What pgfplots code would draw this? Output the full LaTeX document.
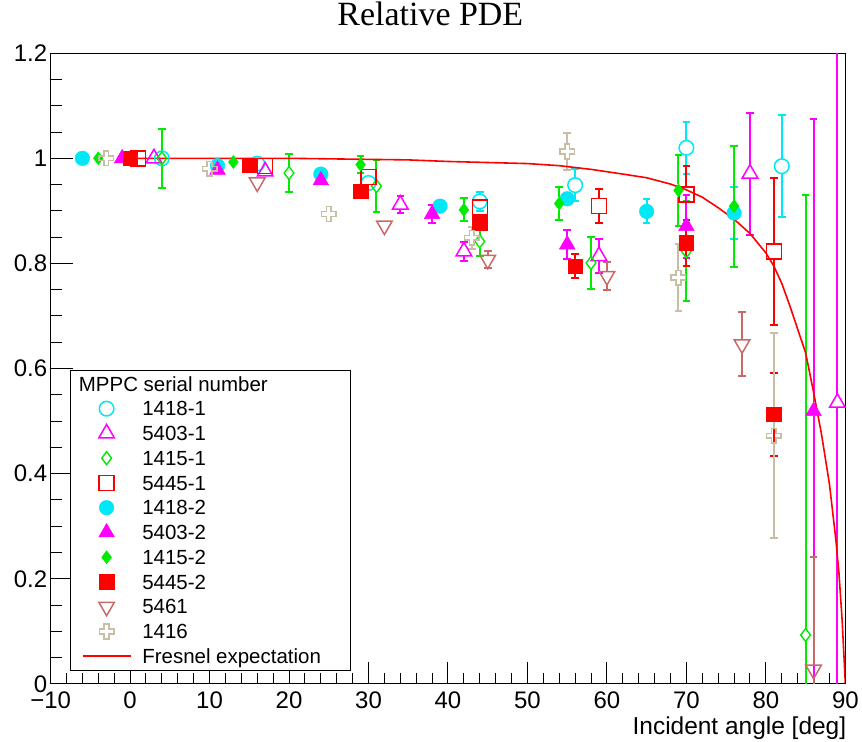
\documentclass[border=0pt]{standalone}
\usepackage{fontspec}
\setmainfont{Liberation Sans}
\newfontfamily\titlefont{Liberation Serif}
\usepackage{pgfplots}
\usepackage{pgfplotstable}
\pgfplotsset{compat=1.18}
\usetikzlibrary{plotmarks}

\definecolor{cCyan}{RGB}{0,232,245}
\definecolor{cMag}{RGB}{255,0,255}
\definecolor{cGreen}{RGB}{0,235,0}
\definecolor{cRed}{RGB}{255,0,0}
\definecolor{cRose}{RGB}{200,105,105}
\definecolor{cBeige}{RGB}{200,190,165}

\pgfdeclareplotmark{ocross}{%
  \pgfpathmoveto{\pgfqpoint{-0.33\pgfplotmarksize}{\pgfplotmarksize}}%
  \pgfpathlineto{\pgfqpoint{0.33\pgfplotmarksize}{\pgfplotmarksize}}%
  \pgfpathlineto{\pgfqpoint{0.33\pgfplotmarksize}{0.33\pgfplotmarksize}}%
  \pgfpathlineto{\pgfqpoint{\pgfplotmarksize}{0.33\pgfplotmarksize}}%
  \pgfpathlineto{\pgfqpoint{\pgfplotmarksize}{-0.33\pgfplotmarksize}}%
  \pgfpathlineto{\pgfqpoint{0.33\pgfplotmarksize}{-0.33\pgfplotmarksize}}%
  \pgfpathlineto{\pgfqpoint{0.33\pgfplotmarksize}{-\pgfplotmarksize}}%
  \pgfpathlineto{\pgfqpoint{-0.33\pgfplotmarksize}{-\pgfplotmarksize}}%
  \pgfpathlineto{\pgfqpoint{-0.33\pgfplotmarksize}{-0.33\pgfplotmarksize}}%
  \pgfpathlineto{\pgfqpoint{-\pgfplotmarksize}{-0.33\pgfplotmarksize}}%
  \pgfpathlineto{\pgfqpoint{-\pgfplotmarksize}{0.33\pgfplotmarksize}}%
  \pgfpathlineto{\pgfqpoint{-0.33\pgfplotmarksize}{0.33\pgfplotmarksize}}%
  \pgfpathclose
  \pgfusepathqstroke
}

% ---------- data: x, relative PDE, error ----------
\pgfplotstableread{
x y
4 1.000
16 0.990
30 0.953
44 0.918
56 0.949
70 1.020
82 0.985
}\tA
\pgfplotstableread{
x y e
44 0.918 0.018
56 0.949 0.030
70 1.020 0.050
82 0.985 0.097
}\tAe
\pgfplotstableread{
x y
3 1.000
17 0.975
34 0.912
42 0.823
59 0.814
78 0.971
89 0.535
}\tB
\pgfplotstableread{
x y e
34 0.912 0.016
42 0.823 0.018
59 0.814 0.032
78 0.971 0.116
89 0.535 0.800
}\tBe
\pgfplotstableread{
x y
4 1.000
20 0.972
31 0.947
44 0.842
58 0.801
70 0.823
85 0.093
}\tC
\pgfplotstableread{
x y e
4 1.000 0.056
20 0.972 0.037
31 0.947 0.049
44 0.842 0.027
58 0.801 0.049
70 0.823 0.095
85 0.093 0.838
}\tCe
\pgfplotstableread{
x y
1 1.000
17 0.985
30 0.964
44 0.906
59 0.909
70 0.931
81 0.823
}\tD
\pgfplotstableread{
x y e
59 0.909 0.033
70 0.931 0.054
81 0.823 0.140
}\tDe
\pgfplotstableread{
x y
-6 1.000
11 0.986
24 0.970
39 0.909
55 0.923
65 0.899
76 0.896
}\tE
\pgfplotstableread{
x y e
65 0.899 0.023
76 0.896 0.049
}\tEe
\pgfplotstableread{
x y
-1 1.000
11 0.978
24 0.958
38 0.894
55 0.836
70 0.871
86 0.519
}\tF
\pgfplotstableread{
x y e
38 0.894 0.018
55 0.836 0.028
70 0.871 0.060
86 0.519 0.555
}\tFe
\pgfplotstableread{
x y
-4 1.000
13 0.993
29 0.988
42 0.902
54 0.914
69 0.939
76 0.909
}\tG
\pgfplotstableread{
x y e
29 0.988 0.016
42 0.902 0.022
54 0.914 0.031
69 0.939 0.067
76 0.909 0.115
}\tGe
\pgfplotstableread{
x y
0 1.000
15 0.987
29 0.937
44 0.877
56 0.795
70 0.839
81 0.513
}\tH
\pgfplotstableread{
x y e
56 0.795 0.022
70 0.839 0.044
81 0.513 0.079
}\tHe
\pgfplotstableread{
x y
16 0.954
32 0.872
45 0.807
60 0.776
77 0.646
86 0.027
}\tI
\pgfplotstableread{
x y e
45 0.807 0.016
60 0.776 0.027
77 0.646 0.061
86 0.027 0.214
}\tIe
\pgfplotstableread{
x y
-3 1.000
10 0.980
25 0.894
43 0.849
55 1.013
69 0.773
81 0.472
}\tJ
\pgfplotstableread{
x y e
43 0.849 0.021
55 1.013 0.036
69 0.773 0.064
81 0.472 0.195
}\tJe
\pgfplotstableread{
x y
0 1.000
10 1.000
20 1.000
25 0.999
30 0.998
35 0.997
40 0.994
45 0.992
50 0.990
54 0.986
58 0.979
62 0.970
65 0.963
68 0.951
70 0.940
72 0.926
74 0.906
76 0.884
78 0.857
80 0.820
81 0.795
82 0.762
83 0.720
84 0.675
85 0.630
86 0.555
87 0.475
88 0.380
88.8 0.275
89.2 0.210
89.6 0.120
90 0.000
}\tFres

% error bars drawn outside the marker: #1 table, #2 colour, #3 gap above, #4 gap below
\newcommand{\errbars}[4]{%
  \addplot[forget plot, draw=none, mark=none,
    error bars/.cd, y dir=plus, y explicit,
    error bar style={draw=#2, line width=2pt, solid},
    error mark options={draw=#2, line width=2pt, mark size=3.8pt, rotate=90, solid}]
    table[x=x, y expr=\thisrow{y}+#3, y error expr=\thisrow{e}-#3] {#1};
  \addplot[forget plot, draw=none, mark=none,
    error bars/.cd, y dir=minus, y explicit,
    error bar style={draw=#2, line width=2pt, solid},
    error mark options={draw=#2, line width=2pt, mark size=3.8pt, rotate=90, solid}]
    table[x=x, y expr=\thisrow{y}-#4, y error expr=\thisrow{e}-#4] {#1};
}

\begin{document}
\begin{tikzpicture}
\begin{axis}[
  scale only axis, width=796pt, height=631.7pt,
  xmin=-10, xmax=90, ymin=0, ymax=1.2,
  xtick={-10,0,10,20,30,40,50,60,70,80,90},
  xticklabels={−10,0,10,20,30,40,50,60,70,80,90},
  ytick={0,0.2,0.4,0.6,0.8,1,1.2},
  yticklabels={0,0.2,0.4,0.6,0.8,1,1.2},
  minor x tick num=4, minor y tick num=3,
  tick align=inside, xtick pos=bottom, ytick pos=left,
  major tick length=22pt, minor tick length=11pt,
  tick style={black, line width=1pt},
  axis line style={black, line width=1.2pt},
  ticklabel style={font=\fontsize{24}{24}\selectfont},
  xticklabel style={yshift=-4pt},
  yticklabel style={xshift=0pt},
  title={Relative PDE},
  title style={at={(axis description cs:0.4778,1)}, anchor=base, yshift=21.5pt, inner sep=0pt,
    font=\titlefont\fontsize{34}{34}\selectfont},
  xlabel={Incident angle [deg]},
  xlabel style={at={(axis description cs:1,0)}, anchor=base east, yshift=-51pt, xshift=1pt,
    inner sep=0pt, font=\fontsize{24.5}{24.5}\selectfont},
  legend style={
    at={(axis description cs:0.0242,0.021)}, anchor=south west,
    draw=black, line width=1pt, fill=white,
    inner xsep=11.5pt, inner ysep=1.5pt, row sep=0pt,
    font=\fontsize{20.5}{20.5}\selectfont,
    nodes={inner sep=0pt, text height=19.6pt, text depth=5.2pt},
    /tikz/every odd column/.append style={column sep=11pt},
  },
  legend cell align=left,
  legend image code/.code={%
    \path[draw=none, fill=none] (0pt,-6pt) rectangle (48pt,6pt);
    \draw[mark repeat=2,mark phase=2,#1] plot coordinates {(0pt,0pt) (24pt,0pt) (48pt,0pt)};},
  clip=true,
]
\coordinate (BL) at (rel axis cs:0,0);

\addlegendimage{empty legend}
\addlegendentry{\hspace*{-63.5pt}MPPC serial number}

% error bars first
\errbars{\tAe}{cCyan}{0.014}{0.014}
\errbars{\tBe}{cMag}{0.017}{0.009}
\errbars{\tCe}{cGreen}{0.012}{0.012}
\errbars{\tDe}{cRed}{0.014}{0.014}
\errbars{\tEe}{cCyan}{0.013}{0.013}
\errbars{\tFe}{cMag}{0.017}{0.009}
\errbars{\tGe}{cGreen}{0.012}{0.012}
\errbars{\tHe}{cRed}{0.014}{0.014}
\errbars{\tIe}{cRose}{0.009}{0.017}
\errbars{\tJe}{cBeige}{0.014}{0.014}

\addplot[only marks, cCyan, mark=o, mark size=7.3pt, mark options={line width=1.5pt}] table[x=x,y=y] {\tA};
\addlegendentry{1418-1}
\addplot[only marks, cMag, mark=triangle, mark size=9pt, mark options={line width=1.5pt}] table[x=x,y=y] {\tB};
\addlegendentry{5403-1}
\addplot[only marks, cGreen, mark=diamond, mark size=6.5pt, mark options={line width=1.4pt}] table[x=x,y=y] {\tC};
\addlegendentry{1415-1}
\addplot[only marks, cRed, mark=square, mark size=7.5pt, mark options={line width=1.5pt}] table[x=x,y=y] {\tD};
\addlegendentry{5445-1}
\addplot[only marks, cCyan, mark=*, mark size=7.3pt, mark options={line width=0.5pt}] table[x=x,y=y] {\tE};
\addlegendentry{1418-2}
\addplot[only marks, cMag, mark=triangle*, mark size=9pt, mark options={line width=0.5pt}] table[x=x,y=y] {\tF};
\addlegendentry{5403-2}
\addplot[only marks, cGreen, mark=diamond*, mark size=6.5pt, mark options={line width=0.5pt}] table[x=x,y=y] {\tG};
\addlegendentry{1415-2}
\addplot[only marks, cRed, mark=square*, mark size=7.3pt, mark options={line width=0.5pt}] table[x=x,y=y] {\tH};
\addlegendentry{5445-2}
\addplot[only marks, cRose, mark=triangle, mark size=9pt, mark options={line width=1.5pt, rotate=180}] table[x=x,y=y] {\tI};
\addlegendentry{5461}
\addplot[only marks, cBeige, mark=ocross, mark size=7.3pt, mark options={line width=1.5pt}] table[x=x,y=y] {\tJ};
\addlegendentry{1416}
\addplot[cRed, line width=1.6pt, mark=none] table[x=x,y=y] {\tFres};
\addlegendentry{\makebox[197pt][l]{Fresnel expectation}}
\end{axis}
\path ([xshift=-50.7pt,yshift=-58pt]BL) rectangle ++(862pt,743pt);
\end{tikzpicture}
\end{document}
